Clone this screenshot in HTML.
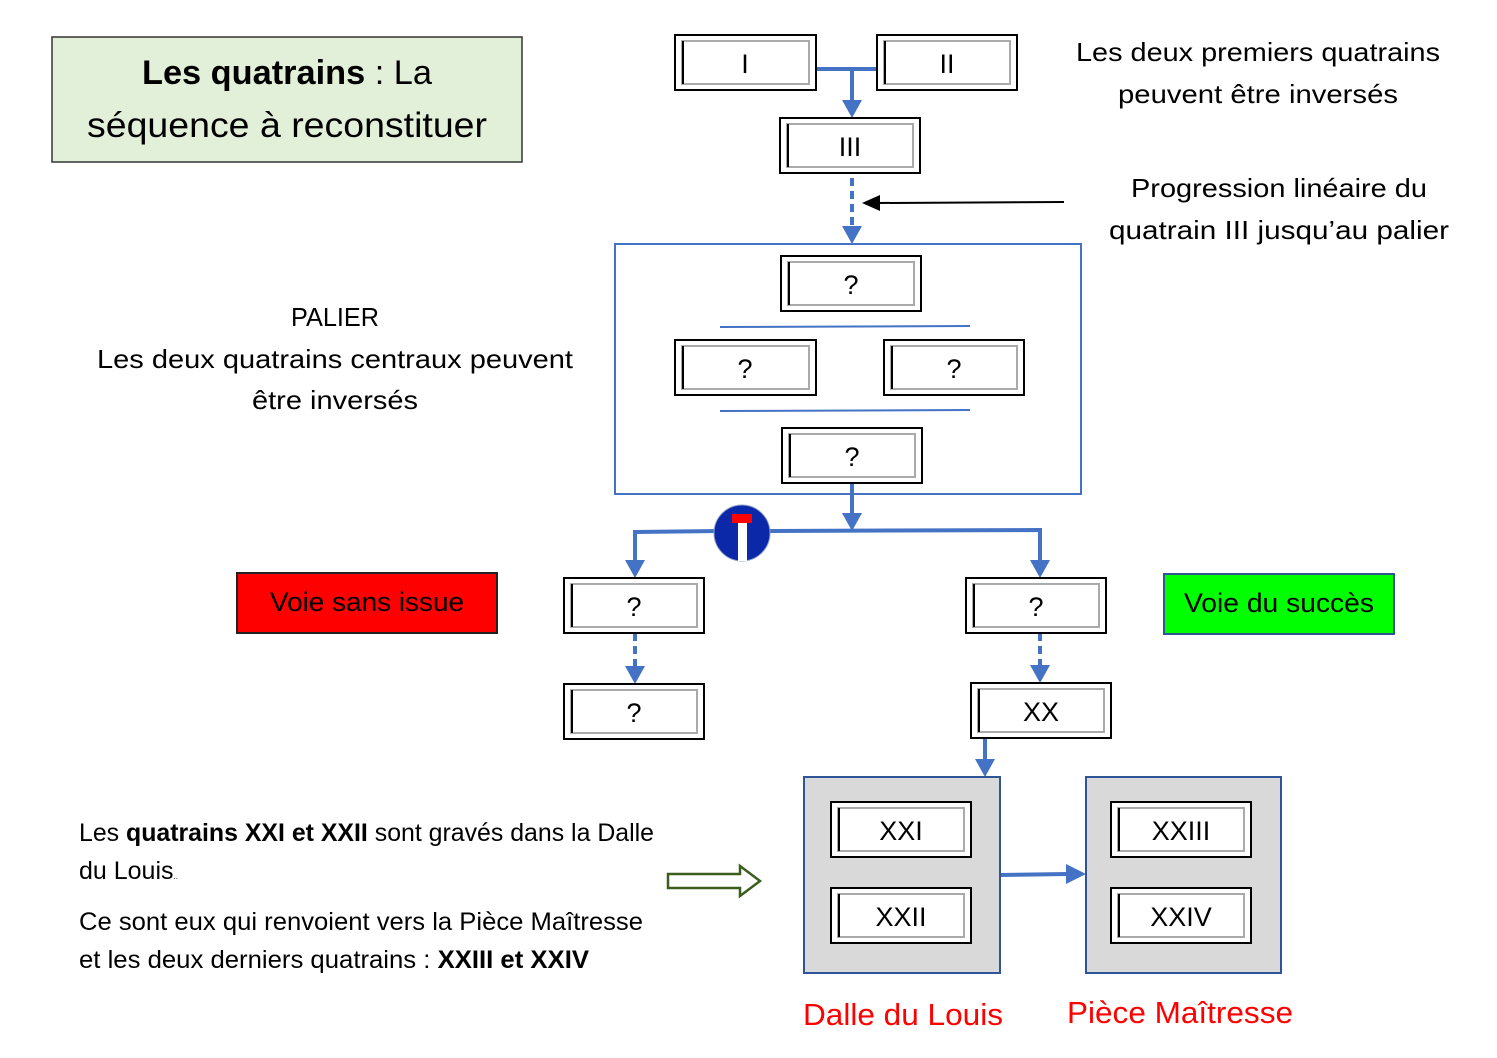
<!DOCTYPE html>
<html><head><meta charset="utf-8"><style>
html,body{margin:0;padding:0;background:#fff;}
svg{display:block;font-family:"Liberation Sans",sans-serif;}
</style></head><body>
<svg width="1497" height="1058" viewBox="0 0 1497 1058" xmlns="http://www.w3.org/2000/svg">
<!-- title -->
<rect x="52" y="37" width="470" height="125" fill="#e2efd9" stroke="#333" stroke-width="1.5"/>
<text x="287" y="84" text-anchor="middle" font-size="34" textLength="290" lengthAdjust="spacingAndGlyphs"><tspan font-weight="bold">Les quatrains</tspan> : La</text>
<text x="287" y="137" text-anchor="middle" font-size="35" textLength="400" lengthAdjust="spacingAndGlyphs">séquence à reconstituer</text>

<g font-size="26" text-anchor="middle">
<text x="1258" y="61" textLength="364" lengthAdjust="spacingAndGlyphs">Les deux premiers quatrains</text>
<text x="1258" y="103" textLength="280" lengthAdjust="spacingAndGlyphs">peuvent être inversés</text>
<text x="1279" y="197" textLength="296" lengthAdjust="spacingAndGlyphs">Progression linéaire du</text>
<text x="1279" y="239" textLength="340" lengthAdjust="spacingAndGlyphs">quatrain III jusqu’au palier</text>
<text x="335" y="326" textLength="88" lengthAdjust="spacingAndGlyphs">PALIER</text>
<text x="335" y="368" textLength="476" lengthAdjust="spacingAndGlyphs">Les deux quatrains centraux peuvent</text>
<text x="335" y="409" textLength="166" lengthAdjust="spacingAndGlyphs">être inversés</text>
</g>
<g font-size="25">
<text x="79" y="841" textLength="575" lengthAdjust="spacingAndGlyphs"><tspan>Les </tspan><tspan font-weight="bold">quatrains XXI et XXII</tspan><tspan> sont gravés dans la Dalle</tspan></text>
<text x="79" y="879">du Louis<tspan font-size="8">..</tspan></text>
<text x="79" y="930" textLength="564" lengthAdjust="spacingAndGlyphs">Ce sont eux qui renvoient vers la Pièce Maîtresse</text>
<text x="79" y="968" textLength="510" lengthAdjust="spacingAndGlyphs">et les deux derniers quatrains : <tspan font-weight="bold">XXIII et XXIV</tspan></text>
</g>

<line x1="1064" y1="202" x2="878" y2="203" stroke="#000" stroke-width="2"/>
<polygon points="862,203 880,195 880,211" fill="#000"/>

<rect x="615" y="244" width="466" height="250" fill="none" stroke="#4472c4" stroke-width="2"/>
<line x1="720" y1="327" x2="970" y2="326" stroke="#4472c4" stroke-width="2"/>
<line x1="720" y1="411" x2="970" y2="410" stroke="#4472c4" stroke-width="2"/>

<g stroke="#4472c4" stroke-width="4" fill="none">
<line x1="816" y1="69" x2="877" y2="69"/>
<line x1="852" y1="69" x2="852" y2="102"/>
<line x1="852" y1="178" x2="852" y2="228" stroke-dasharray="8,5"/>
<line x1="852" y1="484" x2="852" y2="516"/>
<polyline points="635,562 635,532 720,531"/>
<polyline points="770,531 1040,530 1040,562"/>
<line x1="635" y1="633" x2="635" y2="670" stroke-dasharray="8,5"/>
<line x1="1040" y1="633" x2="1040" y2="668" stroke-dasharray="8,5"/>
<line x1="985" y1="738" x2="985" y2="762"/>
<line x1="1000" y1="875" x2="1068" y2="874"/>
</g>
<g fill="#4472c4">
<polygon points="842,100 862,100 852,118"/>
<polygon points="842,226 862,226 852,244"/>
<polygon points="842,513 862,513 852,531"/>
<polygon points="625,560 645,560 635,578"/>
<polygon points="1030,560 1050,560 1040,578"/>
<polygon points="625,666 645,666 635,684"/>
<polygon points="1030,665 1050,665 1040,683"/>
<polygon points="975,759 995,759 985,777"/>
<polygon points="1066,864 1066,884 1086,874"/>
</g>

<circle cx="742" cy="533" r="28" fill="#0a28a8" stroke="#8fa0c8" stroke-width="1"/>
<rect x="732" y="514" width="20" height="9" fill="#f00"/>
<rect x="738" y="523" width="9" height="38" fill="#fff"/>

<rect x="804" y="777" width="196" height="196" fill="#d9d9d9" stroke="#2f5597" stroke-width="2"/>
<rect x="1086" y="777" width="195" height="196" fill="#d9d9d9" stroke="#2f5597" stroke-width="2"/>

<polygon points="668,874 740,874 740,866 760,881 740,896 740,888 668,888" fill="#fff" stroke="#3b5e1f" stroke-width="2.5"/>

<rect x="237" y="573" width="260" height="60" fill="#ff0000" stroke="#222" stroke-width="2"/>
<text x="367" y="611" text-anchor="middle" font-size="27" textLength="194" lengthAdjust="spacingAndGlyphs">Voie sans issue</text>
<rect x="1164" y="574" width="230" height="60" fill="#00ff00" stroke="#2f5597" stroke-width="2"/>
<text x="1279" y="612" text-anchor="middle" font-size="27" textLength="190" lengthAdjust="spacingAndGlyphs">Voie du succès</text>
<text x="903" y="1025" text-anchor="middle" font-size="31" fill="#ff0000" textLength="200" lengthAdjust="spacingAndGlyphs">Dalle du Louis</text>
<text x="1180" y="1023" text-anchor="middle" font-size="31" fill="#ff0000" textLength="226" lengthAdjust="spacingAndGlyphs">Pièce Maîtresse</text>

<g font-size="27" text-anchor="middle">
<g transform="translate(675,35)"><rect width="141" height="55" fill="#fff" stroke="#000" stroke-width="2"/><rect x="7" y="6" width="127" height="43" fill="none" stroke="#aaa" stroke-width="2"/><line x1="8" y1="6" x2="8" y2="49" stroke="#000" stroke-width="2"/><text x="70" y="38">I</text></g>
<g transform="translate(877,35)"><rect width="140" height="55" fill="#fff" stroke="#000" stroke-width="2"/><rect x="7" y="6" width="126" height="43" fill="none" stroke="#aaa" stroke-width="2"/><line x1="8" y1="6" x2="8" y2="49" stroke="#000" stroke-width="2"/><text x="70" y="38">II</text></g>
<g transform="translate(780,118)"><rect width="140" height="55" fill="#fff" stroke="#000" stroke-width="2"/><rect x="7" y="6" width="126" height="43" fill="none" stroke="#aaa" stroke-width="2"/><line x1="8" y1="6" x2="8" y2="49" stroke="#000" stroke-width="2"/><text x="70" y="38">III</text></g>
<g transform="translate(781,256)"><rect width="140" height="55" fill="#fff" stroke="#000" stroke-width="2"/><rect x="7" y="6" width="126" height="43" fill="none" stroke="#aaa" stroke-width="2"/><line x1="8" y1="6" x2="8" y2="49" stroke="#000" stroke-width="2"/><text x="70" y="38">?</text></g>
<g transform="translate(675,340)"><rect width="141" height="55" fill="#fff" stroke="#000" stroke-width="2"/><rect x="7" y="6" width="127" height="43" fill="none" stroke="#aaa" stroke-width="2"/><line x1="8" y1="6" x2="8" y2="49" stroke="#000" stroke-width="2"/><text x="70" y="38">?</text></g>
<g transform="translate(884,340)"><rect width="140" height="55" fill="#fff" stroke="#000" stroke-width="2"/><rect x="7" y="6" width="126" height="43" fill="none" stroke="#aaa" stroke-width="2"/><line x1="8" y1="6" x2="8" y2="49" stroke="#000" stroke-width="2"/><text x="70" y="38">?</text></g>
<g transform="translate(782,428)"><rect width="140" height="55" fill="#fff" stroke="#000" stroke-width="2"/><rect x="7" y="6" width="126" height="43" fill="none" stroke="#aaa" stroke-width="2"/><line x1="8" y1="6" x2="8" y2="49" stroke="#000" stroke-width="2"/><text x="70" y="38">?</text></g>
<g transform="translate(564,578)"><rect width="140" height="55" fill="#fff" stroke="#000" stroke-width="2"/><rect x="7" y="6" width="126" height="43" fill="none" stroke="#aaa" stroke-width="2"/><line x1="8" y1="6" x2="8" y2="49" stroke="#000" stroke-width="2"/><text x="70" y="38">?</text></g>
<g transform="translate(564,684)"><rect width="140" height="55" fill="#fff" stroke="#000" stroke-width="2"/><rect x="7" y="6" width="126" height="43" fill="none" stroke="#aaa" stroke-width="2"/><line x1="8" y1="6" x2="8" y2="49" stroke="#000" stroke-width="2"/><text x="70" y="38">?</text></g>
<g transform="translate(966,578)"><rect width="140" height="55" fill="#fff" stroke="#000" stroke-width="2"/><rect x="7" y="6" width="126" height="43" fill="none" stroke="#aaa" stroke-width="2"/><line x1="8" y1="6" x2="8" y2="49" stroke="#000" stroke-width="2"/><text x="70" y="38">?</text></g>
<g transform="translate(971,683)"><rect width="140" height="55" fill="#fff" stroke="#000" stroke-width="2"/><rect x="7" y="6" width="126" height="43" fill="none" stroke="#aaa" stroke-width="2"/><line x1="8" y1="6" x2="8" y2="49" stroke="#000" stroke-width="2"/><text x="70" y="38">XX</text></g>
<g transform="translate(831,802)"><rect width="140" height="55" fill="#fff" stroke="#000" stroke-width="2"/><rect x="7" y="6" width="126" height="43" fill="none" stroke="#aaa" stroke-width="2"/><line x1="8" y1="6" x2="8" y2="49" stroke="#000" stroke-width="2"/><text x="70" y="38">XXI</text></g>
<g transform="translate(831,888)"><rect width="140" height="55" fill="#fff" stroke="#000" stroke-width="2"/><rect x="7" y="6" width="126" height="43" fill="none" stroke="#aaa" stroke-width="2"/><line x1="8" y1="6" x2="8" y2="49" stroke="#000" stroke-width="2"/><text x="70" y="38">XXII</text></g>
<g transform="translate(1111,802)"><rect width="140" height="55" fill="#fff" stroke="#000" stroke-width="2"/><rect x="7" y="6" width="126" height="43" fill="none" stroke="#aaa" stroke-width="2"/><line x1="8" y1="6" x2="8" y2="49" stroke="#000" stroke-width="2"/><text x="70" y="38">XXIII</text></g>
<g transform="translate(1111,888)"><rect width="140" height="55" fill="#fff" stroke="#000" stroke-width="2"/><rect x="7" y="6" width="126" height="43" fill="none" stroke="#aaa" stroke-width="2"/><line x1="8" y1="6" x2="8" y2="49" stroke="#000" stroke-width="2"/><text x="70" y="38">XXIV</text></g>
</g>
</svg>
</body></html>
